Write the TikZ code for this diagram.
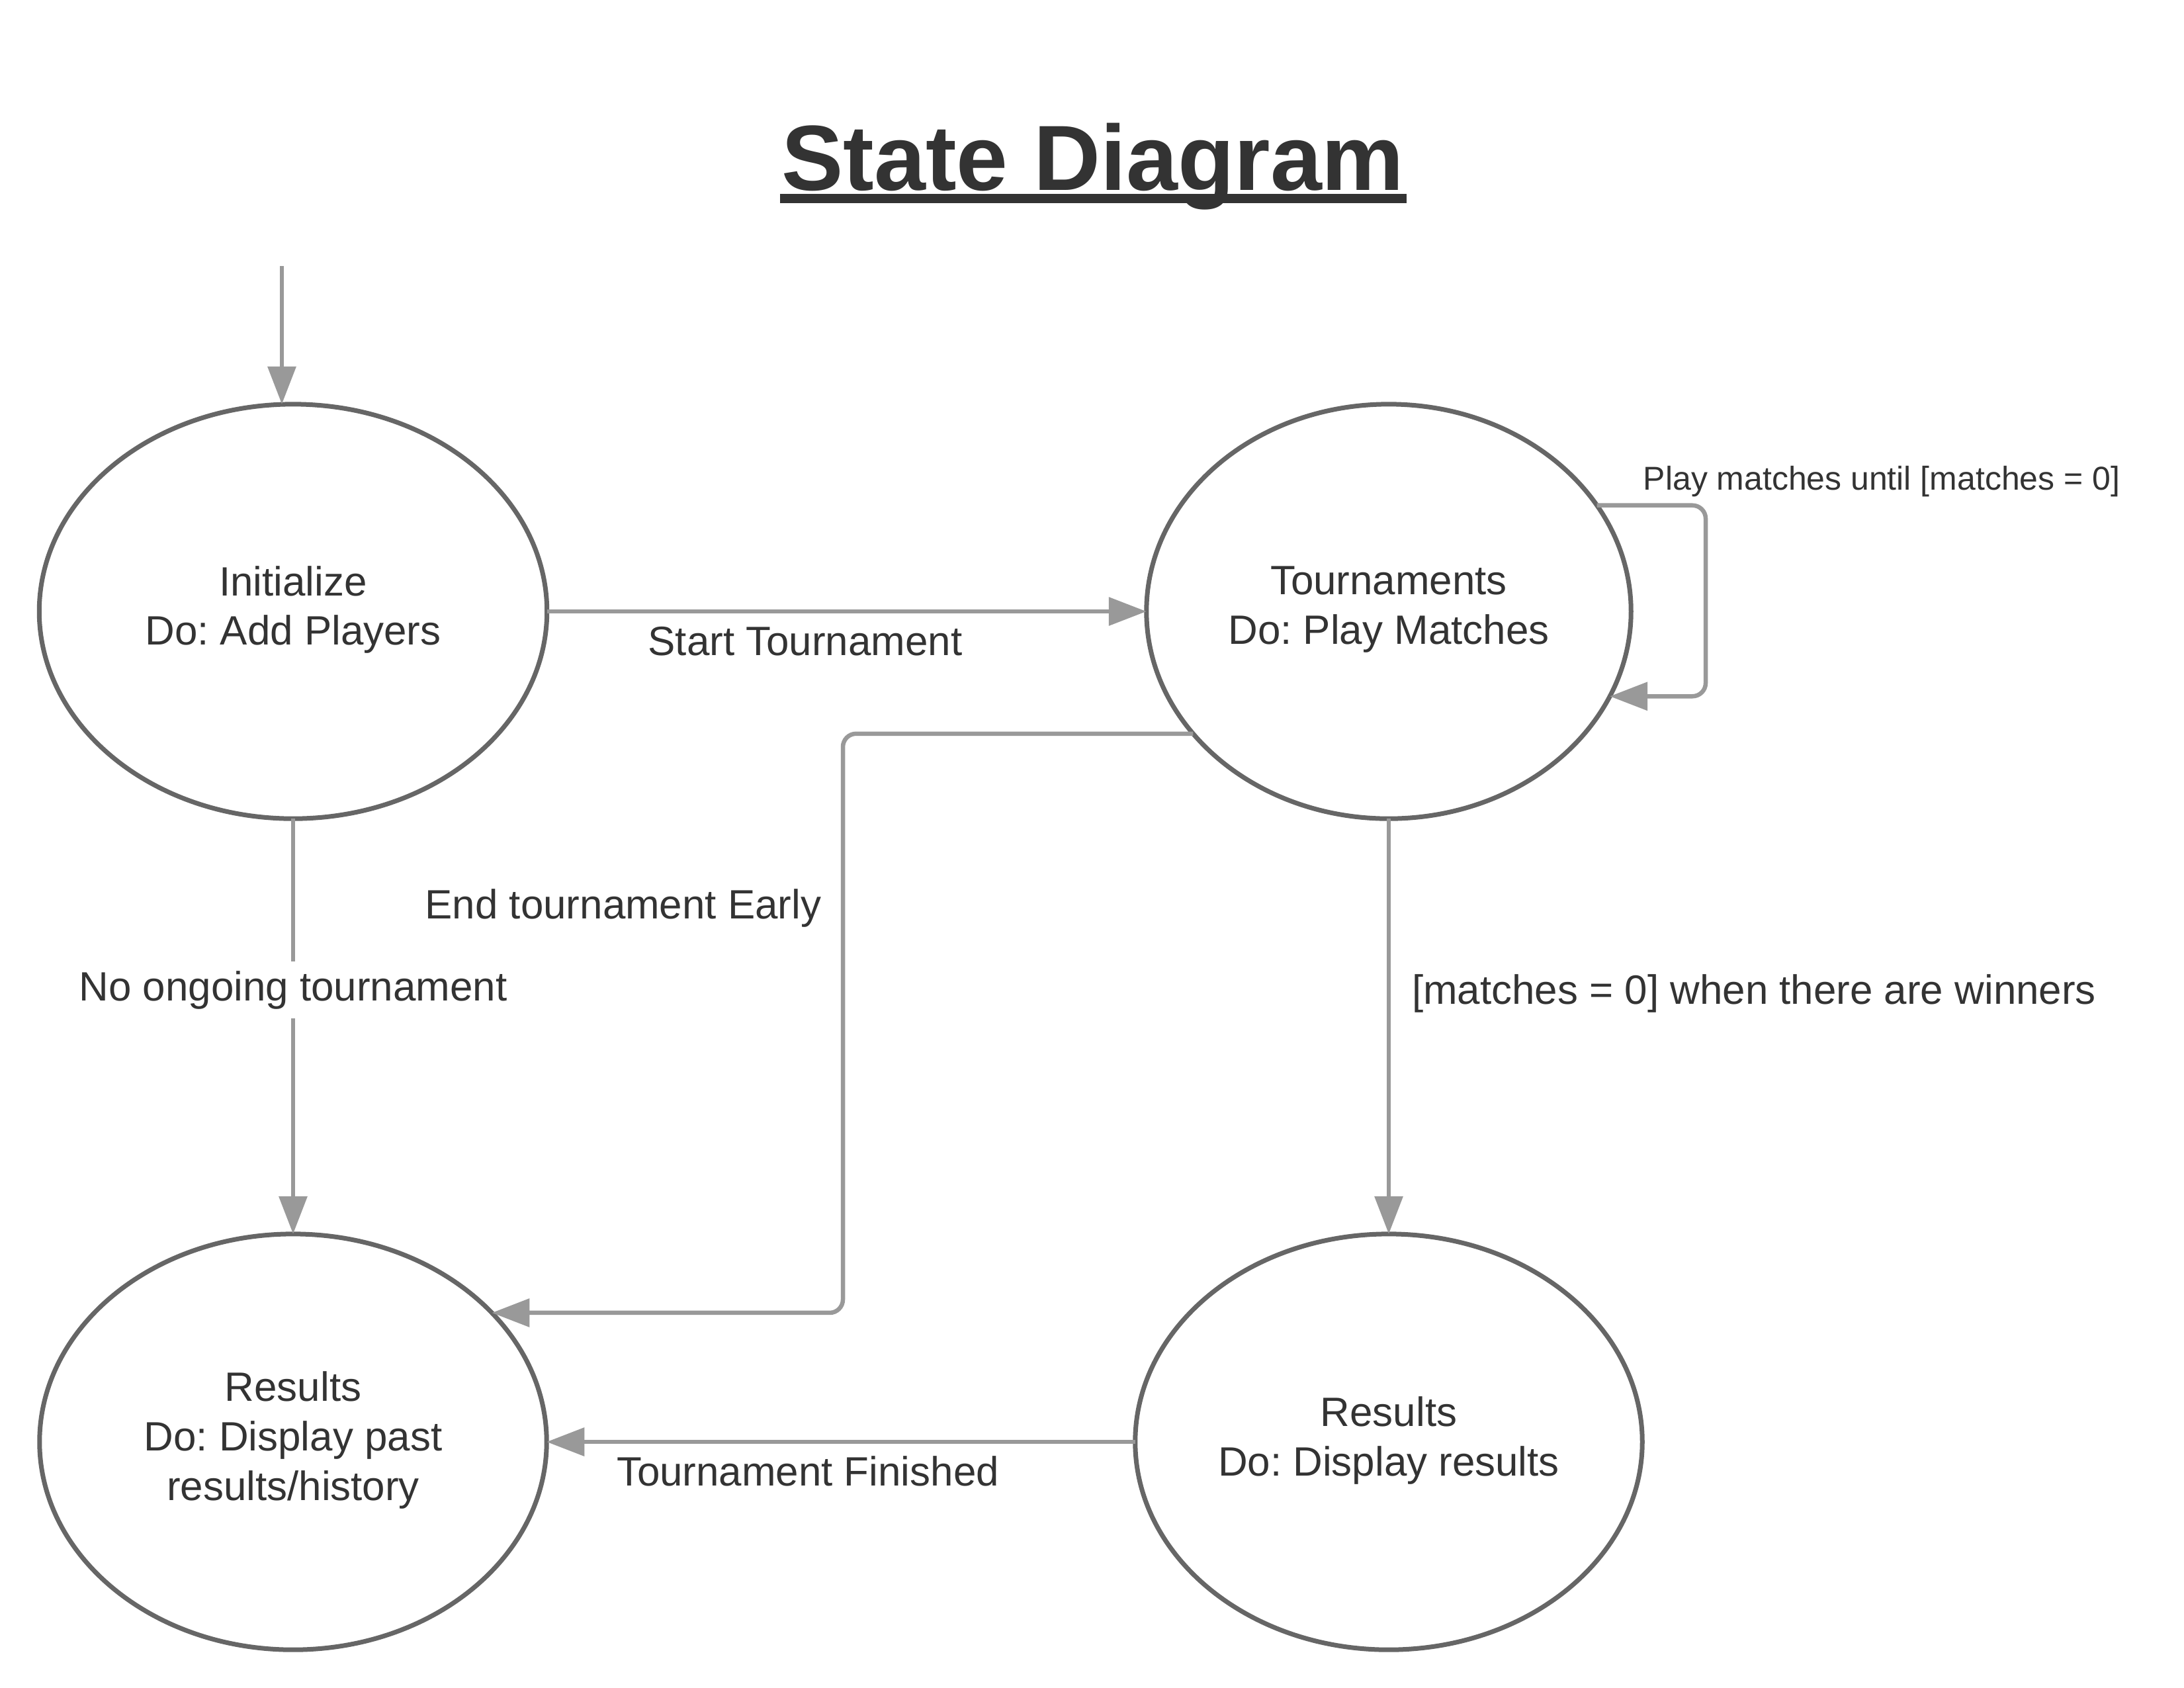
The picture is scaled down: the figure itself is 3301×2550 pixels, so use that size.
\documentclass[tikz,border=0pt]{standalone}
\usepackage{fontspec}
\setmainfont{Liberation Sans}
\frenchspacing
\usetikzlibrary{arrows.meta,shapes.geometric}
\definecolor{strokec}{HTML}{666666}
\definecolor{connc}{HTML}{999999}
\definecolor{txtc}{HTML}{333333}
\begin{document}
\begin{tikzpicture}[x=0.01cm,y=-0.01cm,
  state/.style={ellipse, draw=strokec, line width=0.07cm, outer sep=0pt, inner sep=0pt,
    text=txtc, align=center, font=\fontsize{17.6pt}{21.3pt}\selectfont},
  conn/.style={draw=connc, line width=0.065cm, -{Triangle[length=0.57cm,width=0.42cm]}},
  lbl/.style={text=txtc, font=\fontsize{17.6pt}{21.3pt}\selectfont, inner sep=0pt, anchor=base},
  smalllbl/.style={text=txtc, font=\fontsize{14.2pt}{17pt}\selectfont, inner sep=0pt, anchor=base},
  titlest/.style={text=txtc, font=\fontsize{39.8pt}{48pt}\selectfont\bfseries, inner sep=0pt, anchor=base}
]
\fill[white] (0,0) rectangle (3301,2550);
\useasboundingbox (0,0) rectangle (3301,2550);

% title
\node[titlest] (title) at (1652,287) {State Diagram};
\draw[txtc, line width=0.14cm] (1179,300) -- (2126,300);

% states
\node[state, minimum width=7.67cm, minimum height=6.26cm] (init) at (443,924) {Initialize\\Do: Add Players\vspace{0.05cm}};
\node[state, minimum width=7.32cm, minimum height=6.26cm] (tour) at (2099,924) {Tournaments\\Do: Play Matches\vspace{0.05cm}};
\node[state, minimum width=7.66cm, minimum height=6.28cm] (past) at (443,2179) {Results\\Do: Display past\\results/history\vspace{0.05cm}};
\node[state, minimum width=7.66cm, minimum height=6.28cm] (res) at (2099,2179) {Results\\Do: Display results\vspace{0.05cm}};

% initial
\coordinate (start) at (426,402);
\draw[conn] (start) -- (start |- init.north);

% start tournament
\draw[conn] (init.east) -- (tour.west);
\node[lbl] (lstart) at (1217,990) {Start Tournament};

% self loop
\coordinate (loopx) at (2578,924);
\draw[conn, rounded corners=0.2cm] (tour.27.4) -| (loopx) |- (tour.-21.1);
\node[smalllbl] (lloop) at (2844,740) {Play matches until [matches = 0]};

% end early
\coordinate (elbow) at (1274,1500);
\draw[conn, rounded corners=0.2cm] (tour.212.1) -| (elbow) |- (past.33.7);
\node[lbl] (learly) at (942,1388) {End tournament Early};

% no ongoing
\draw[conn] (init.south) -- (past.north);
\node[lbl, fill=white, inner ysep=0.14cm, inner xsep=0.05cm] (lnone) at (443,1512) {No ongoing tournament};

% matches = 0
\draw[conn] (tour.south) -- (res.north);
\node[lbl] (lwin) at (2651,1517) {[matches = 0] when there are winners};

% finished
\draw[conn] (res.west) -- (past.east);
\node[lbl] (lfin) at (1221,2245) {Tournament Finished};
\end{tikzpicture}
\end{document}
